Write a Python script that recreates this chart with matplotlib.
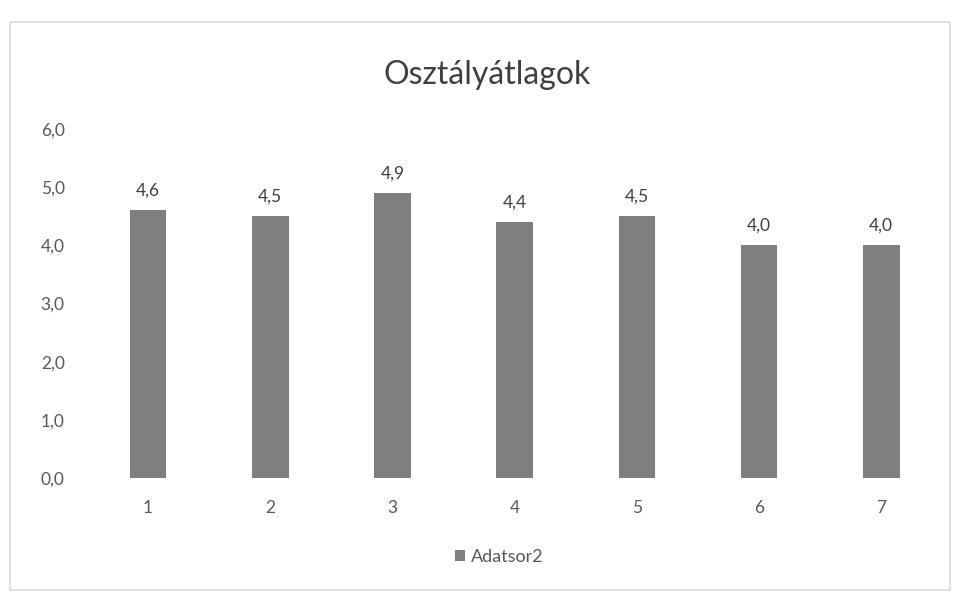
import matplotlib
matplotlib.use("Agg")
import matplotlib.pyplot as plt
from matplotlib.patches import Rectangle

categories = ["1", "2", "3", "4", "5", "6", "7"]
values = [4.6, 4.5, 4.9, 4.4, 4.5, 4.0, 4.0]
value_labels = ["4,6", "4,5", "4,9", "4,4", "4,5", "4,0", "4,0"]
yticks = [0, 1, 2, 3, 4, 5, 6]
ytick_labels = ["0,0", "1,0", "2,0", "3,0", "4,0", "5,0", "6,0"]
title = "Osztályátlagok"
series_name = "Adatsor2"

plt.rcParams['font.family'] = ['Lato', 'DejaVu Sans']

fig = plt.figure(figsize=(9.6, 5.94), dpi=100)
fig.patch.set_facecolor("white")
fig.patches.append(Rectangle((10/960, 4/594), 940/960, 568/594, transform=fig.transFigure,
                             fill=False, edgecolor="#d9d9d9", linewidth=1.2))

ax = fig.add_axes([0.0906, 0.195, 0.891, 0.588])
x = list(range(len(categories)))
bars = ax.bar(x, values, width=0.3, color="#7f7f7f", label=series_name)
for xi, v, lab in zip(x, values, value_labels):
    ax.text(xi, v + 0.2, lab, ha="center", va="bottom", fontsize=12.5, color="#404040")

ax.set_xlim(-0.5, len(categories) - 0.5)
ax.set_ylim(0, 6)
ax.set_yticks(yticks)
ax.set_yticklabels(ytick_labels, fontsize=12.5, color="#595959")
ax.set_xticks(x)
ax.set_xticklabels(categories, fontsize=12.5, color="#595959")
ax.tick_params(axis="x", length=0, pad=16)
ax.tick_params(axis="y", length=0, pad=16)
for s in ax.spines.values():
    s.set_visible(False)

fig.text(0.508, 0.873, title, ha="center", va="center", fontsize=23, color="#404040")
leg = fig.legend(handles=[bars], labels=[series_name], loc="center", bbox_to_anchor=(0.52, 0.062),
                 frameon=False, fontsize=13, handlelength=0.55, handleheight=0.55, handletextpad=0.3)
for t in leg.get_texts():
    t.set_color("#595959")

fig.savefig("out.png", dpi=100)
